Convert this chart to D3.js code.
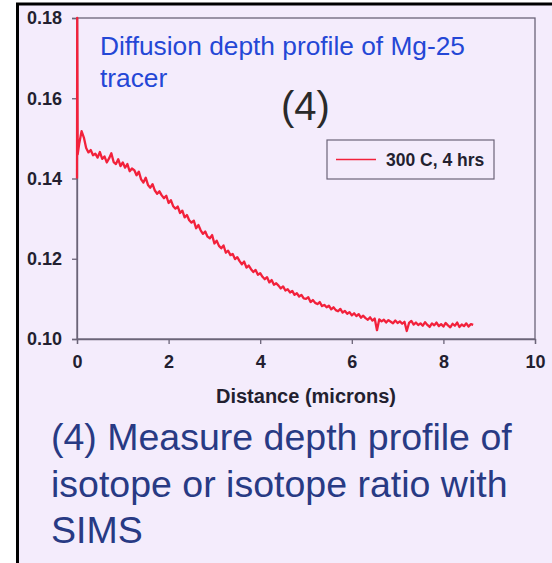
<!DOCTYPE html>
<html>
<head>
<meta charset="utf-8">
<script src="https://cdn.jsdelivr.net/npm/d3@7"></script>
<style>
  html, body { margin: 0; padding: 0; background: #ffffff; }
  svg { display: block; }
  text { font-family: "Liberation Sans", Arial, Helvetica, sans-serif; }
</style>
</head>
<body>
<div id="chart"></div>
<script>
// ---- data ----
const xTicks = [0, 2, 4, 6, 8, 10];
const yTicks = [0.10, 0.12, 0.14, 0.16, 0.18];
const seriesName = "300 C, 4 hrs";
const titleLines = ["Diffusion depth profile of Mg-25", "tracer"];
const stepLabel = "(4)";
const xAxisTitle = "Distance (microns)";
const captionLines = ["(4) Measure depth profile of", "isotope or isotope ratio with", "SIMS"];

const distance = [
  0.000, 0.005, 0.015, 0.05, 0.10, 0.15, 0.20, 0.25, 0.30, 0.35, 0.40, 0.45, 0.50, 0.55, 0.60, 0.65, 0.70, 0.75, 0.80, 0.85,
  0.90, 0.95, 1.00, 1.05, 1.10, 1.15, 1.20, 1.25, 1.30, 1.35, 1.40, 1.45, 1.50, 1.55, 1.60, 1.65, 1.70, 1.75, 1.80, 1.85,
  1.90, 1.95, 2.00, 2.05, 2.10, 2.15, 2.20, 2.25, 2.30, 2.35, 2.40, 2.45, 2.50, 2.55, 2.60, 2.65, 2.70, 2.75, 2.80, 2.85,
  2.90, 2.95, 3.00, 3.05, 3.10, 3.15, 3.20, 3.25, 3.30, 3.35, 3.40, 3.45, 3.50, 3.55, 3.60, 3.65, 3.70, 3.75, 3.80, 3.85,
  3.90, 3.95, 4.00, 4.05, 4.10, 4.15, 4.20, 4.25, 4.30, 4.35, 4.40, 4.45, 4.50, 4.55, 4.60, 4.65, 4.70, 4.75, 4.80, 4.85,
  4.90, 4.95, 5.00, 5.05, 5.10, 5.15, 5.20, 5.25, 5.30, 5.35, 5.40, 5.45, 5.50, 5.55, 5.60, 5.65, 5.70, 5.75, 5.80, 5.85,
  5.90, 5.95, 6.00, 6.05, 6.10, 6.15, 6.20, 6.25, 6.30, 6.35, 6.40, 6.45, 6.50, 6.55, 6.60, 6.65, 6.70, 6.75, 6.80, 6.85,
  6.90, 6.95, 7.00, 7.05, 7.10, 7.15, 7.20, 7.25, 7.30, 7.35, 7.40, 7.45, 7.50, 7.55, 7.60, 7.65, 7.70, 7.75, 7.80, 7.85,
  7.90, 7.95, 8.00, 8.05, 8.10, 8.15, 8.20, 8.25, 8.30, 8.35, 8.40, 8.45, 8.50, 8.55, 8.60, 8.65
];
const ratio = [
  0.1400, 0.1800, 0.1460, 0.1488, 0.1518, 0.1502, 0.1476, 0.1465, 0.1471, 0.1458, 0.1462, 0.1452, 0.1466, 0.1449, 0.1455, 0.1440, 0.1450, 0.1463, 0.1441, 0.1436,
  0.1448, 0.1431, 0.1440, 0.1427, 0.1436, 0.1418, 0.1425, 0.1421, 0.1408, 0.1417, 0.1398, 0.1390, 0.1402, 0.1384, 0.1377, 0.1386, 0.1370, 0.1362, 0.1368, 0.1358,
  0.1351, 0.1357, 0.1339, 0.1346, 0.1331, 0.1325, 0.1330, 0.1314, 0.1320, 0.1303, 0.1309, 0.1296, 0.1290, 0.1295, 0.1276, 0.1284, 0.1271, 0.1262, 0.1268, 0.1255,
  0.1251, 0.1259, 0.1238, 0.1245, 0.1232, 0.1226, 0.1233, 0.1215, 0.1220, 0.1209, 0.1212, 0.1199, 0.1204, 0.1194, 0.1186, 0.1193, 0.1178, 0.1183, 0.1174, 0.1167,
  0.1172, 0.1160, 0.1164, 0.1155, 0.1149, 0.1154, 0.1141, 0.1147, 0.1135, 0.1139, 0.1133, 0.1126, 0.1131, 0.1121, 0.1124, 0.1116, 0.1120, 0.1110, 0.1114, 0.1106,
  0.1110, 0.1101, 0.1100, 0.1104, 0.1092, 0.1097, 0.1090, 0.1087, 0.1092, 0.1082, 0.1085, 0.1079, 0.1083, 0.1074, 0.1079, 0.1072, 0.1069, 0.1075, 0.1066, 0.1070,
  0.1063, 0.1067, 0.1059, 0.1064, 0.1057, 0.1062, 0.1053, 0.1058, 0.1052, 0.1048, 0.1054, 0.1046, 0.1051, 0.1022, 0.1049, 0.1044, 0.1048, 0.1041, 0.1047, 0.1043,
  0.1039, 0.1046, 0.1040, 0.1044, 0.1038, 0.1043, 0.1020, 0.1040, 0.1045, 0.1036, 0.1041, 0.1035, 0.1039, 0.1033, 0.1042, 0.1035, 0.1030, 0.1039, 0.1034, 0.1041,
  0.1032, 0.1037, 0.1031, 0.1040, 0.1034, 0.1029, 0.1038, 0.1033, 0.1041, 0.1030, 0.1036, 0.1032, 0.1039, 0.1031, 0.1037, 0.1035
];

// ---- layout ----
const W = 552, H = 563;
const plot = { left: 77, right: 535, top: 18, bottom: 339 };
const colors = {
  bg: "#f4ecfc", border: "#000000", frame: "#6b6478", ink: "#231f30",
  line: "#f2213b", title: "#2447d6", caption: "#283a84"
};

const svg = d3.select("#chart").append("svg")
  .attr("width", W).attr("height", H);

// slide background + border
svg.append("rect").attr("x", 0).attr("y", 0).attr("width", W).attr("height", H).attr("fill", "#ffffff");
svg.append("rect")
  .attr("x", 17.5).attr("y", 4).attr("width", W + 20).attr("height", H + 20)
  .attr("fill", colors.bg).attr("stroke", colors.border).attr("stroke-width", 3);

const x = d3.scaleLinear().domain([0, 10]).range([plot.left, plot.right]);
const y = d3.scaleLinear().domain([0.10, 0.18]).range([plot.bottom, plot.top]);

// plot frame
svg.append("rect")
  .attr("x", plot.left).attr("y", plot.top)
  .attr("width", plot.right - plot.left).attr("height", plot.bottom - plot.top)
  .attr("fill", "none").attr("stroke", colors.frame).attr("stroke-width", 1.3);

// axes
const yAxis = svg.append("g").attr("transform", `translate(${plot.left},0)`)
  .call(d3.axisLeft(y).tickValues(yTicks).tickFormat(d3.format(".2f")).tickSize(5).tickPadding(10));
const xAxis = svg.append("g").attr("transform", `translate(0,${plot.bottom})`)
  .call(d3.axisBottom(x).tickValues(xTicks).tickFormat(d3.format("d")).tickSize(5).tickPadding(11));
[yAxis, xAxis].forEach(g => {
  g.attr("font-size", null).attr("font-family", null);
  g.select(".domain").attr("stroke", colors.frame).attr("stroke-width", 1.3);
  g.selectAll(".tick line").attr("stroke", colors.frame).attr("stroke-width", 1.3);
  g.selectAll(".tick text")
    .attr("fill", colors.ink)
    .style("font-family", '"Liberation Sans", Arial, sans-serif')
    .style("font-weight", "bold").style("font-size", "18px");
});

// axis title
svg.append("text")
  .attr("x", (plot.left + plot.right) / 2).attr("y", 403)
  .attr("text-anchor", "middle").attr("fill", colors.ink)
  .style("font-weight", "bold").style("font-size", "20px")
  .text(xAxisTitle);

// series line
const pts = distance.map((d, i) => [d, ratio[i]]);
svg.append("path")
  .datum(pts)
  .attr("fill", "none").attr("stroke", colors.line).attr("stroke-width", 2.3)
  .attr("stroke-linejoin", "round")
  .attr("d", d3.line().x(d => x(d[0])).y(d => y(d[1])));

// title inside plot
svg.append("text")
  .attr("x", 100).attr("y", 55).attr("fill", colors.title)
  .style("font-size", "26.3px")
  .selectAll("tspan").data(titleLines).join("tspan")
  .attr("x", 100).attr("dy", (d, i) => i === 0 ? 0 : 32)
  .text(d => d);

// (4)
svg.append("text")
  .attr("x", 305.5).attr("y", 120).attr("text-anchor", "middle")
  .attr("fill", "#2a2a2a").style("font-size", "40px")
  .text(stepLabel);

// legend
const lg = svg.append("g");
lg.append("rect").attr("x", 327).attr("y", 140).attr("width", 167).attr("height", 39)
  .attr("fill", colors.bg).attr("stroke", colors.frame).attr("stroke-width", 1.2);
lg.append("line").attr("x1", 336).attr("x2", 376).attr("y1", 159.5).attr("y2", 159.5)
  .attr("stroke", colors.line).attr("stroke-width", 1.6);
lg.append("text").attr("x", 386).attr("y", 166).attr("fill", colors.ink)
  .style("font-weight", "bold").style("font-size", "17.5px")
  .text(seriesName);

// caption
svg.append("text")
  .attr("fill", colors.caption).style("font-size", "37.5px")
  .selectAll("tspan").data(captionLines).join("tspan")
  .attr("x", 51).attr("y", (d, i) => 450 + i * 46.5)
  .text(d => d);
</script>
</body>
</html>
